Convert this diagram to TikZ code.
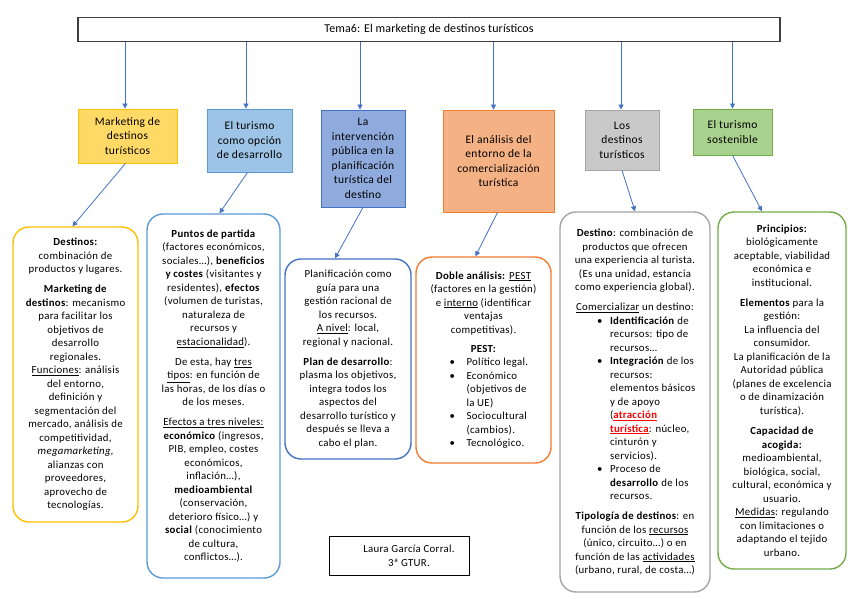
\documentclass[tikz,border=0pt]{standalone}
\usepackage{fontspec}
\setmainfont{Carlito}[LetterSpace=3]
\newfontfamily\titlefont{Carlito}[LetterSpace=1]
\usetikzlibrary{arrows.meta}
\definecolor{arr}{HTML}{4472C4}
\definecolor{ylF}{HTML}{FFD966}
\definecolor{ylD}{HTML}{FFC000}
\definecolor{blF}{HTML}{9DC3E6}
\definecolor{blD}{HTML}{5B9BD5}
\definecolor{pwF}{HTML}{8FAADC}
\definecolor{pwD}{HTML}{4472C4}
\definecolor{orF}{HTML}{F4B183}
\definecolor{orD}{HTML}{ED7D31}
\definecolor{gyF}{HTML}{C9C9C9}
\definecolor{gyD}{HTML}{A5A5A5}
\definecolor{gnF}{HTML}{A9D18E}
\definecolor{gnD}{HTML}{70AD47}
\definecolor{redt}{HTML}{FF0000}
\definecolor{ttl}{HTML}{3F3F3F}
\newcommand{\uln}[1]{\underline{#1}}
\newcommand{\bul}[3]{\makebox[#1][l]{\makebox[#2][l]{•}#3}}
\newcommand{\cnt}[3]{\makebox[#1][l]{\hspace*{#2}#3}}
\begin{document}
\begin{tikzpicture}[x=1pt,y=-1pt,
  topbox/.style={draw, line width=0.8pt, align=center, inner sep=0pt,
    font=\fontsize{11.5}{14.5}\selectfont},
  lowbox/.style={draw, line width=1.4pt, rounded corners=16pt, align=center, inner sep=0pt,
    font=\fontsize{10.8}{13.5}\selectfont},
  con/.style={draw=arr, line width=0.8pt, -{Triangle[length=5pt,width=5pt]}}]
\useasboundingbox (0,0) rectangle (848,599);
\fill[white] (0,0) rectangle (848,599);

\node[draw=ttl, line width=1.5pt, minimum width=702pt, minimum height=24pt, inner sep=0pt,
  font=\titlefont\fontsize{12}{14}\selectfont] (title) at (429,29.3) {Tema6: El marketing de destinos turísticos};

\node[topbox, draw=ylD, fill=ylF, minimum width=99pt, minimum height=54pt] (t1) at (127.5,136)
  {Marketing de\\destinos\\turísticos};
\node[topbox, draw=blD, fill=blF, minimum width=85pt, minimum height=63pt] (t2) at (249.5,140.5)
  {El turismo\\como opción\\de desarrollo};
\node[topbox, draw=pwD, fill=pwF, minimum width=84pt, minimum height=97pt] (t3) at (363,158.5)
  {La\\intervención\\pública en la\\planificación\\turística del\\destino};
\node[topbox, draw=orD, fill=orF, minimum width=111pt, minimum height=102pt] (t4) at (498.5,161)
  {El análisis del\\entorno de la\\comercialización\\turística};
\node[topbox, draw=gyD, fill=gyF, minimum width=74pt, minimum height=60pt] (t5) at (622,140)
  {Los\\destinos\\turísticos};
\node[topbox, draw=gnD, fill=gnF, minimum width=79pt, minimum height=46pt] (t6) at (732.5,132)
  {El turismo\\sostenible};

\node[lowbox, draw=ylD, minimum width=125pt, minimum height=295pt] (d1) at (75.5,374.5)
  {\textbf{Destinos:}\\
  combinación de\\
  productos y lugares.\\[6.5pt]
  \textbf{Marketing de}\\
  \textbf{destinos}: mecanismo\\
  para facilitar los\\
  objetivos de\\
  desarrollo\\
  regionales.\\
  \uln{Funciones}: análisis\\
  del entorno,\\
  definición y\\
  segmentación del\\
  mercado, análisis de\\
  competitividad,\\
  \textit{megamarketing},\\
  alianzas con\\
  proveedores,\\
  aprovecho de\\
  tecnologías.};

\node[lowbox, draw=blD, minimum width=133pt, minimum height=364pt] (d2) at (213.5,396)
  {\textbf{Puntos de partida}\\
  (factores económicos,\\
  sociales…), \textbf{beneficios}\\
  \textbf{y costes} (visitantes y\\
  residentes), \textbf{efectos}\\
  (volumen de turistas,\\
  naturaleza de\\
  recursos y\\
  \uln{estacionalidad}).\\[6.5pt]
  De esta, hay \uln{tres}\\
  \uln{tipos}: en función de\\
  las horas, de los días o\\
  de los meses.\\[6.5pt]
  \uln{Efectos a tres niveles:}\\
  \textbf{económico} (ingresos,\\
  PIB, empleo, costes\\
  económicos,\\
  inflación…),\\
  \textbf{medioambiental}\\
  (conservación,\\
  deterioro físico…) y\\
  \textbf{social} (conocimiento\\
  de cultura,\\
  conflictos…).};

\node[lowbox, draw=pwD, minimum width=126pt, minimum height=200pt] (d3) at (348,359)
  {Planificación como\\
  guía para una\\
  gestión racional de\\
  los recursos.\\
  \uln{A nivel}: local,\\
  regional y nacional.\\[6.5pt]
  \textbf{Plan de desarrollo}:\\
  plasma los objetivos,\\
  integra todos los\\
  aspectos del\\
  desarrollo turístico y\\
  después se lleva a\\
  cabo el plan.};

\node[lowbox, draw=orD, minimum width=135pt, minimum height=206pt] (d4) at (483.5,360)
  {\textbf{Doble análisis:} \uln{PEST}\\
  (factores en la gestión)\\
  e \uln{interno} (identificar\\
  ventajas\\
  competitivas).\\[5.5pt]
  \textbf{PEST:}\\
  \bul{68pt}{17pt}{Político legal.}\\
  \bul{68pt}{17pt}{Económico}\\
  \cnt{68pt}{17pt}{(objetivos de}\\
  \cnt{68pt}{17pt}{la UE)}\\
  \bul{68pt}{17pt}{Sociocultural}\\
  \cnt{68pt}{17pt}{(cambios).}\\
  \bul{68pt}{17pt}{Tecnológico.}};

\node[lowbox, draw=gyD, minimum width=150pt, minimum height=380pt] (d5) at (635,402)
  {\textbf{Destino}: combinación de\\
  productos que ofrecen\\
  una experiencia al turista.\\
  (Es una unidad, estancia\\
  como experiencia global).\\[6.5pt]
  \uln{Comercializar} un destino:\\
  \bul{76pt}{13pt}{\textbf{Identificación} de}\\
  \cnt{76pt}{13pt}{recursos: tipo de}\\
  \cnt{76pt}{13pt}{recursos…}\\
  \bul{76pt}{13pt}{\textbf{Integración} de los}\\
  \cnt{76pt}{13pt}{recursos:}\\
  \cnt{76pt}{13pt}{elementos básicos}\\
  \cnt{76pt}{13pt}{y de apoyo}\\
  \cnt{76pt}{13pt}{(\textcolor{redt}{\uln{\textbf{atracción}}}}\\
  \cnt{76pt}{13pt}{\textcolor{redt}{\uln{\textbf{turística}}}: núcleo,}\\
  \cnt{76pt}{13pt}{cinturón y}\\
  \cnt{76pt}{13pt}{servicios).}\\
  \bul{76pt}{13pt}{Proceso de}\\
  \cnt{76pt}{13pt}{\textbf{desarrollo} de los}\\
  \cnt{76pt}{13pt}{recursos.}\\[6.5pt]
  \textbf{Tipología de destinos}: en\\
  función de los \uln{recursos}\\
  (único, circuito…) o en\\
  función de las \uln{actividades}\\
  (urbano, rural, de costa…)};

\node[lowbox, draw=gnD, minimum width=128pt, minimum height=357pt] (d6) at (782,390.5)
  {\textbf{Principios:}\\
  biológicamente\\
  aceptable, viabilidad\\
  económica e\\
  institucional.\\[6.5pt]
  \textbf{Elementos} para la\\
  gestión:\\
  La influencia del\\
  consumidor.\\
  La planificación de la\\
  Autoridad pública\\
  (planes de excelencia\\
  o de dinamización\\
  turística).\\[7pt]
  \textbf{Capacidad de}\\
  \textbf{acogida:}\\
  medioambiental,\\
  biológica, social,\\
  cultural, económica y\\
  usuario.\\
  \uln{Medidas}: regulando\\
  con limitaciones o\\
  adaptando el tejido\\
  urbano.};

\node[draw=black, line width=0.8pt, minimum width=140pt, minimum height=39pt] (au) at (399,555.5) {};
\node[align=center, inner sep=0pt, font=\fontsize{10.8}{14}\selectfont] (aut) at ([xshift=10pt]au.center)
  {Laura García Corral.\\3ª GTUR.};

\draw[con] ([xshift=-2.5pt]t1.north |- title.south) -- ([xshift=-2.5pt]t1.north);
\draw[con] ([xshift=-3.5pt]t2.north |- title.south) -- ([xshift=-3.5pt]t2.north);
\draw[con] ([xshift=-3pt]t3.north |- title.south) -- ([xshift=-3pt]t3.north);
\draw[con] ([xshift=-5pt]t4.north |- title.south) -- ([xshift=-5pt]t4.north);
\draw[con] ([xshift=-1pt]t5.north |- title.south) -- ([xshift=-1pt]t5.north);
\draw[con] (t6.north |- title.south) -- (t6.north);

\draw[con] ([xshift=-2pt]t1.south) -- ([xshift=-3pt]d1.north);
\draw[con] ([xshift=-2pt]t2.south) -- ([xshift=6pt]d2.north);
\draw[con] (t3.south) -- ([xshift=-13pt]d3.north);
\draw[con] ([xshift=-1pt]t4.south) -- ([xshift=-8pt]d4.north);
\draw[con] (t5.south) -- (d5.north);
\draw[con] (t6.south) -- ([xshift=-20pt]d6.north);
\end{tikzpicture}
\end{document}
